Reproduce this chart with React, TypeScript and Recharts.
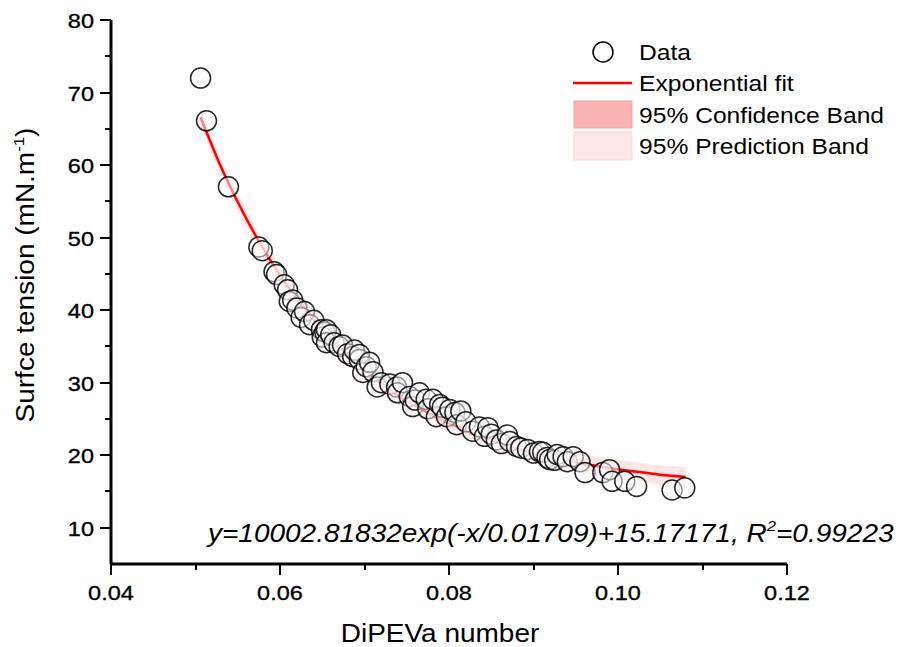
import { ComposedChart, Scatter, Line, Area, XAxis, YAxis } from "recharts";

// measured points (DiPEVa number, surface tension)
const dataX = [
  0.0506, 0.0513, 0.0539, 0.0575, 0.0579, 0.0593, 0.0596, 0.0605, 0.0609, 0.0611,
  0.0615, 0.062, 0.0625, 0.0629, 0.0635, 0.064, 0.0649, 0.065, 0.0653, 0.0655,
  0.0655, 0.066, 0.0664, 0.067, 0.0674, 0.068, 0.0686, 0.0688, 0.0694, 0.0694,
  0.0698, 0.0702, 0.0706, 0.071, 0.0715, 0.072, 0.073, 0.0738, 0.0739, 0.0745,
  0.0753, 0.0757, 0.076, 0.0765, 0.0773, 0.0775, 0.0781, 0.0785, 0.0789, 0.0792,
  0.0797, 0.0801, 0.0807, 0.0809, 0.0814, 0.082, 0.0828, 0.0836, 0.0842, 0.0846,
  0.085, 0.0856, 0.0862, 0.0869, 0.0872, 0.088, 0.0885, 0.0893, 0.09, 0.0907,
  0.0911, 0.0916, 0.0919, 0.0925, 0.0928, 0.0935, 0.094, 0.0947, 0.0955, 0.0961,
  0.0982, 0.099, 0.0993, 0.1008, 0.1022, 0.1064, 0.1079,
];
const dataY = [
  72.0, 66.1, 57.0, 48.7, 48.2, 45.3, 44.9, 43.5, 42.8, 41.2,
  41.4, 40.3, 39.0, 39.8, 38.0, 38.6, 37.3, 36.3, 37.0, 37.3,
  35.5, 36.6, 35.5, 35.0, 35.2, 34.0, 33.6, 34.5, 33.2, 33.9,
  31.4, 32.2, 32.8, 31.5, 29.4, 30.0, 29.8, 29.4, 28.6, 30.0,
  28.1, 26.7, 27.6, 28.6, 27.7, 26.4, 27.7, 25.3, 27.0, 26.6,
  25.3, 26.3, 25.9, 24.2, 26.1, 24.6, 23.3, 23.9, 22.6, 23.8,
  22.9, 22.1, 21.6, 22.8, 21.9, 21.2, 21.0, 20.8, 20.3, 20.5,
  20.4, 19.7, 19.4, 19.3, 20.1, 19.8, 19.1, 19.8, 19.1, 17.6,
  17.6, 18.0, 16.4, 16.4, 15.7, 15.2, 15.5,
];

// fitted curve and bands
const fitX = [
  0.0506, 0.053, 0.055, 0.057, 0.059, 0.061, 0.063, 0.065, 0.067, 0.069,
  0.071, 0.073, 0.075, 0.077, 0.079, 0.081, 0.083, 0.085, 0.087, 0.089,
  0.091, 0.093, 0.095, 0.097, 0.099, 0.101, 0.103, 0.105, 0.108,
];
const fitY = [
  66.6, 59.8, 54.9, 50.5, 46.6, 43.1, 40.1, 37.3, 34.9, 32.7,
  30.8, 29.0, 27.5, 26.2, 24.9, 23.9, 22.9, 22.1, 21.3, 20.6,
  20.0, 19.5, 19.0, 18.6, 18.2, 17.9, 17.6, 17.3, 17.0,
];
const predLow = [
  65.4, 58.6, 53.7, 49.3, 45.4, 41.9, 38.9, 36.1, 33.7, 31.5,
  29.6, 27.8, 26.3, 25.0, 23.7, 22.7, 21.7, 20.9, 20.1, 19.4,
  18.8, 18.2, 17.7, 17.3, 16.9, 16.6, 16.3, 16.0, 15.6,
];
const predHigh = [
  67.8, 61.0, 56.1, 51.7, 47.8, 44.3, 41.3, 38.5, 36.1, 33.9,
  32.0, 30.2, 28.7, 27.4, 26.1, 25.1, 24.1, 23.3, 22.5, 21.8,
  21.2, 20.8, 20.3, 19.9, 19.5, 19.2, 18.9, 18.6, 18.4,
];
const confLow = [
  66.4, 59.6, 54.7, 50.3, 46.4, 42.9, 39.9, 37.1, 34.7, 32.5,
  30.6, 28.8, 27.3, 26.0, 24.7, 23.7, 22.7, 21.9, 21.1, 20.4,
  19.8, 19.3, 18.8, 18.4, 18.0, 17.7, 17.4, 17.1, 16.8,
];
const confHigh = [
  66.8, 60.0, 55.1, 50.7, 46.8, 43.3, 40.3, 37.5, 35.1, 32.9,
  31.0, 29.2, 27.7, 26.4, 25.1, 24.1, 23.1, 22.3, 21.5, 20.8,
  20.2, 19.7, 19.2, 18.8, 18.4, 18.1, 17.8, 17.5, 17.2,
];

const xTicks = [0.04, 0.06, 0.08, 0.1, 0.12];
const xMinorTicks = [0.05, 0.07, 0.09, 0.11];
const yTicks = [10, 20, 30, 40, 50, 60, 70, 80];
const yMinorTicks = [15, 25, 35, 45, 55, 65, 75];

const points = dataX.map((x, i) => ({ x, y: dataY[i] }));
const fitData = fitX.map((x, i) => ({ x, y: fitY[i] }));
const bandData = fitX.map((x, i) => ({
  x,
  pred: [predLow[i], predHigh[i]],
  conf: [confLow[i], confHigh[i]],
}));
const allXTicks = [...xTicks, ...xMinorTicks].sort((a, b) => a - b);
const allYTicks = [...yTicks, ...yMinorTicks].sort((a, b) => a - b);

const FONT = "'Liberation Sans', Arial, sans-serif";
const SX = 1.12; // the original figure's text is a bit wide

const isIn = (arr: number[], v: number) => arr.some((t) => Math.abs(t - v) < 1e-9);

const XTick = (p: any) => {
  const v = p.payload.value;
  const major = isIn(xTicks, v);
  const x = Math.round(p.x);
  return (
    <g>
      <line x1={x} x2={x} y1={p.y} y2={p.y + (major ? 11 : 6)} stroke="#000" strokeWidth={2} />
      {major && (
        <text
          transform={`translate(${x},${p.y + 36}) scale(${SX},1)`}
          textAnchor="middle"
          fontSize={21}
          fontFamily={FONT}
          fill="#000"
          stroke="#000"
          strokeWidth={0.35}
        >
          {v.toFixed(2)}
        </text>
      )}
    </g>
  );
};

const YTick = (p: any) => {
  const v = p.payload.value;
  const major = isIn(yTicks, v);
  const y = Math.round(p.y);
  return (
    <g>
      <line x1={p.x - (major ? 11 : 6)} x2={p.x} y1={y} y2={y} stroke="#000" strokeWidth={2} />
      {major && (
        <text
          transform={`translate(${p.x - 17},${y + 7.5}) scale(${SX},1)`}
          textAnchor="end"
          fontSize={21}
          fontFamily={FONT}
          fill="#000"
          stroke="#000"
          strokeWidth={0.35}
        >
          {v}
        </text>
      )}
    </g>
  );
};

const Ring = (p: any) => (
  <circle
    cx={p.cx}
    cy={p.cy}
    r={10}
    fill="#ffffff"
    fillOpacity={0.5}
    stroke="#000"
    strokeOpacity={0.85}
    strokeWidth={1.5}
  />
);

export default function App() {
  return (
    <div style={{ position: "absolute", left: 0, top: 0, width: 902, height: 647, background: "#fff" }}>
      <ComposedChart
        width={902}
        height={647}
        margin={{ top: 20, right: 115, bottom: 53, left: 51 }}
      >
        <XAxis
          type="number"
          dataKey="x"
          domain={[0.04, 0.12]}
          ticks={allXTicks}
          interval={0}
          height={30}
          tickSize={0}
          tickMargin={0}
          stroke="#000"
          strokeWidth={3}
          axisLine={{ stroke: "#000", strokeWidth: 3 }}
          tickLine={false}
          tick={<XTick />}
          allowDataOverflow
        />
        <YAxis
          type="number"
          dataKey="y"
          domain={[5, 80]}
          ticks={allYTicks}
          interval={0}
          width={60}
          tickSize={0}
          tickMargin={0}
          stroke="#000"
          strokeWidth={3}
          axisLine={{ stroke: "#000", strokeWidth: 3 }}
          tickLine={false}
          tick={<YTick />}
          allowDataOverflow
        />
        <Area
          data={bandData}
          dataKey="pred"
          type="monotone"
          fill="#fde6e6"
          fillOpacity={1}
          stroke="none"
          isAnimationActive={false}
        />
        <Area
          data={bandData}
          dataKey="conf"
          type="monotone"
          fill="#f9c0c0"
          fillOpacity={1}
          stroke="none"
          isAnimationActive={false}
        />
        <Scatter data={points} dataKey="y" shape={Ring} isAnimationActive={false} />
        <Line
          data={fitData}
          dataKey="y"
          type="monotone"
          stroke="#ff0000"
          strokeWidth={2.5}
          dot={false}
          activeDot={false}
          isAnimationActive={false}
        />
      </ComposedChart>

      <svg
        width={902}
        height={647}
        style={{ position: "absolute", left: 0, top: 0, pointerEvents: "none" }}
        fontFamily={FONT}
      >
        {/* legend */}
        <circle cx={603} cy={52} r={10} fill="#fff" stroke="#000" strokeWidth={1.5} />
        <text transform={`translate(639,60) scale(${SX},1)`} fontSize={22}>Data</text>
        <line x1={573} y1={83} x2={632} y2={83} stroke="#ff0000" strokeWidth={2.5} />
        <text transform={`translate(639,91) scale(${SX},1)`} fontSize={22}>Exponential fit</text>
        <rect x={574} y={101} width={58} height={27} fill="#f9b3b3" stroke="#f2a6a6" />
        <text transform={`translate(639,123) scale(${SX},1)`} fontSize={22}>95% Confidence Band</text>
        <rect x={574} y={132} width={58} height={28} fill="#fde8e8" stroke="#fadada" />
        <text transform={`translate(639,154) scale(${SX},1)`} fontSize={22}>95% Prediction Band</text>

        {/* fit equation */}
        <text transform={`translate(208,542) scale(${SX},1)`} fontSize={25} fontStyle="italic">
          y=10002.81832exp(-x/0.01709)+15.17171, R
          <tspan fontSize={15} dy={-11}>2</tspan>
          <tspan dy={11}>=0.99223</tspan>
        </text>

        {/* axis titles */}
        <text transform={`translate(440,642) scale(${SX},1)`} fontSize={25} textAnchor="middle">
          DiPEVa number
        </text>
        <text
          transform={`translate(34,275) rotate(-90) scale(${SX},1)`}
          fontSize={25}
          textAnchor="middle"
        >
          Surfce tension (mN.m
          <tspan fontSize={15} dy={-10}>-1</tspan>
          <tspan dy={10}>)</tspan>
        </text>
      </svg>
    </div>
  );
}
